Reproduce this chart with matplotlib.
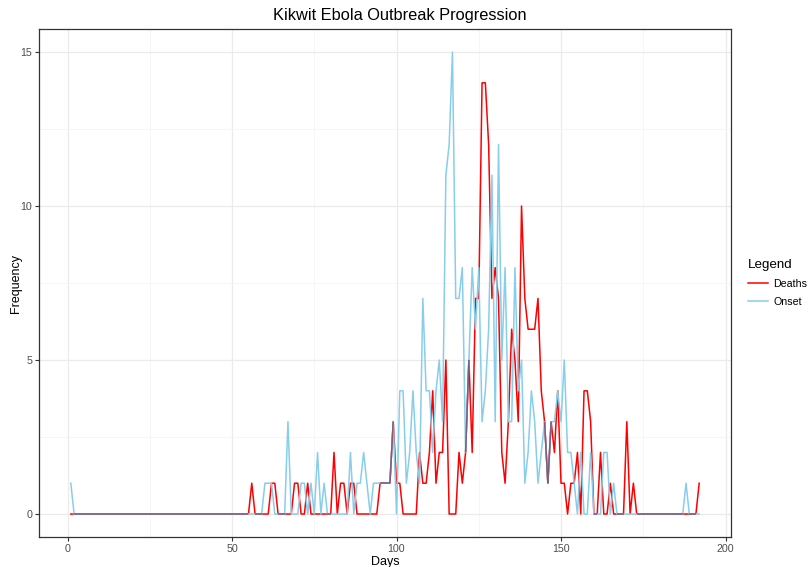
import numpy as np
import matplotlib
matplotlib.use("Agg")
import matplotlib.pyplot as plt
from matplotlib.ticker import MultipleLocator

plt.rcParams['font.family'] = ['Liberation Sans', 'DejaVu Sans']

# daily counts, day 1 .. 192
days = np.arange(1, 193)

onset = [
    1, 0, 0, 0, 0, 0, 0, 0, 0, 0, 0, 0, 0, 0, 0, 0, 0, 0, 0, 0,   # 1-20
    0, 0, 0, 0, 0, 0, 0, 0, 0, 0, 0, 0, 0, 0, 0, 0, 0, 0, 0, 0,   # 21-40
    0, 0, 0, 0, 0, 0, 0, 0, 0, 0, 0, 0, 0, 0, 0, 0, 0, 0, 0, 1,   # 41-60
    1, 1, 0, 0, 0, 0, 3, 0, 0, 0, 1, 1, 0, 1, 0, 2, 0, 1, 0, 0,   # 61-80
    0, 0, 0, 0, 0, 2, 0, 1, 1, 2, 1, 0, 1, 1, 1, 1, 1, 1, 3, 0,   # 81-100
    4, 4, 1, 2, 4, 2, 1, 7, 4, 4, 2, 4, 5, 3, 11, 12, 15, 7, 7, 8,  # 101-120
    2, 5, 8, 6, 8, 3, 4, 6, 11, 3, 12, 5, 8, 3, 3, 8, 4, 5, 1, 2,   # 121-140
    4, 3, 1, 2, 3, 1, 3, 3, 4, 3, 5, 2, 2, 1, 0, 2, 0, 0, 2, 0,   # 141-160
    0, 0, 2, 2, 0, 1, 0, 0, 0, 0, 0, 0, 0, 0, 0, 0, 0, 0, 0, 0,   # 161-180
    0, 0, 0, 0, 0, 0, 0, 1, 0, 0, 0, 0,                           # 181-192
]

deaths = [
    0, 0, 0, 0, 0, 0, 0, 0, 0, 0, 0, 0, 0, 0, 0, 0, 0, 0, 0, 0,   # 1-20
    0, 0, 0, 0, 0, 0, 0, 0, 0, 0, 0, 0, 0, 0, 0, 0, 0, 0, 0, 0,   # 21-40
    0, 0, 0, 0, 0, 0, 0, 0, 0, 0, 0, 0, 0, 0, 0, 1, 0, 0, 0, 0,   # 41-60
    0, 1, 1, 0, 0, 0, 0, 0, 1, 1, 0, 0, 1, 0, 0, 0, 0, 0, 0, 0,   # 61-80
    2, 0, 1, 1, 0, 1, 1, 0, 0, 0, 0, 0, 0, 0, 1, 1, 1, 1, 3, 1,   # 81-100
    1, 0, 0, 0, 0, 0, 2, 1, 1, 2, 4, 1, 2, 2, 5, 0, 0, 0, 2, 1,   # 101-120
    2, 5, 2, 7, 7, 14, 14, 12, 7, 8, 7, 2, 1, 3, 6, 5, 3, 10, 7, 6,  # 121-140
    6, 6, 7, 4, 3, 1, 3, 2, 4, 1, 1, 0, 1, 1, 2, 0, 4, 4, 3, 0,   # 141-160
    0, 2, 0, 0, 1, 0, 0, 0, 0, 3, 0, 1, 0, 0, 0, 0, 0, 0, 0, 0,   # 161-180
    0, 0, 0, 0, 0, 0, 0, 0, 0, 0, 0, 1,                           # 181-192
]

series_names = ["Deaths", "Onset"]
series_colors = ["#ff0000", "#87ceeb"]
overlap_color = "#7d5c7c"

onset = np.array(onset)
deaths = np.array(deaths)

fig = plt.figure(figsize=(8.09, 5.67), dpi=100)
ax = fig.add_axes([0.0487, 0.0527, 0.9031 - 0.0487, 0.949 - 0.0527])

ax.plot(days, deaths, color=series_colors[0], lw=1.1, label=series_names[0], zorder=3)
ax.plot(days, onset, color=series_colors[1], lw=1.1, label=series_names[1], zorder=4)

# where both series run together the lines blend into a muted purple
same = onset == deaths
for i in range(len(days) - 1):
    if same[i] and same[i + 1]:
        ax.plot(days[i:i + 2], onset[i:i + 2], color=overlap_color, lw=1.1,
                solid_capstyle='butt', zorder=5)

ax.set_xlim(-8.55, 201.55)
ax.set_ylim(-0.75, 15.75)
ax.xaxis.set_major_locator(MultipleLocator(50))
ax.xaxis.set_minor_locator(MultipleLocator(25))
ax.yaxis.set_major_locator(MultipleLocator(5))
ax.yaxis.set_minor_locator(MultipleLocator(2.5))

ax.grid(which='major', color='#ebebeb', lw=0.9, zorder=0)
ax.grid(which='minor', color='#f3f3f3', lw=0.5, zorder=0)
ax.set_axisbelow(True)

for sp in ax.spines.values():
    sp.set_color('#333333')
    sp.set_linewidth(0.9)

ax.tick_params(which='major', length=3, width=0.8, color='#333333',
               labelsize=7.7, labelcolor='#4d4d4d', pad=2)
ax.tick_params(which='minor', length=0)

ax.set_xlabel("Days", fontsize=9)
ax.set_ylabel("Frequency", fontsize=9)
ax.xaxis.set_label_coords(0.5, -0.037)
ax.yaxis.set_label_coords(-0.025, 0.5)
fig.text(0.494, 0.973, "Kikwit Ebola Outbreak Progression", fontsize=11.8,
         ha='center', va='center')

leg = ax.legend(title="Legend", loc='center left', bbox_to_anchor=(1.011, 0.5),
                frameon=False, fontsize=7.7, title_fontsize=9.6,
                handlelength=1.9, handletextpad=0.5, labelspacing=0.75,
                alignment='left')

fig.savefig("out.png", dpi=100)
